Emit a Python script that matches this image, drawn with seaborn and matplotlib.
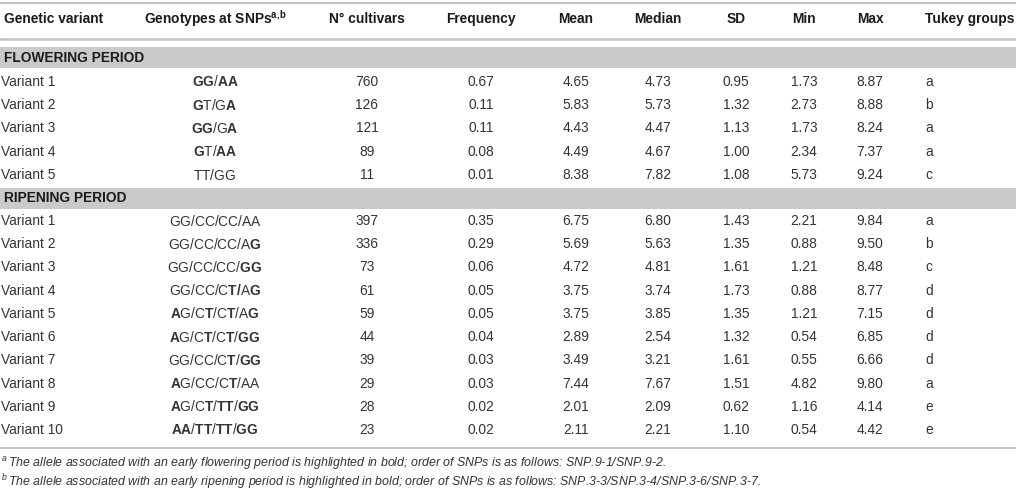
import matplotlib
matplotlib.use("Agg")
import matplotlib.pyplot as plt
import seaborn as sns

# ---------------- data ----------------
header_labels = ["Genetic variant", "Genotypes at SNPs", "N\u00b0 cultivars", "Frequency",
                 "Mean", "Median", "SD", "Min", "Max", "Tukey groups"]

flow_variants = ["Variant 1", "Variant 2", "Variant 3", "Variant 4", "Variant 5"]
flow_genotypes = ["**GG**/**AA**", "**G**T/G**A**", "**GG**/G**A**", "**G**T/**AA**", "TT/GG"]
flow_n = [760, 126, 121, 89, 11]
flow_freq = [0.67, 0.11, 0.11, 0.08, 0.01]
flow_mean = [4.65, 5.83, 4.43, 4.49, 8.38]
flow_median = [4.73, 5.73, 4.47, 4.67, 7.82]
flow_sd = [0.95, 1.32, 1.13, 1.00, 1.08]
flow_min = [1.73, 2.73, 1.73, 2.34, 5.73]
flow_max = [8.87, 8.88, 8.24, 7.37, 9.24]
flow_tukey = ["a", "b", "a", "a", "c"]

ripe_variants = ["Variant %d" % i for i in range(1, 11)]
ripe_genotypes = ["GG/CC/CC/AA", "GG/CC/CC/A**G**", "GG/CC/CC/**GG**", "GG/CC/C**T/**A**G**",
                  "**A**G/C**T**/C**T**/A**G**", "**A**G/C**T**/C**T**/**GG**", "GG/CC/C**T**/**GG**",
                  "**A**G/CC/C**T**/AA", "**A**G/C**T**/**TT**/**GG**", "**AA**/**TT**/**TT**/**GG**"]
ripe_n = [397, 336, 73, 61, 59, 44, 39, 29, 28, 23]
ripe_freq = [0.35, 0.29, 0.06, 0.05, 0.05, 0.04, 0.03, 0.03, 0.02, 0.02]
ripe_mean = [6.75, 5.69, 4.72, 3.75, 3.75, 2.89, 3.49, 7.44, 2.01, 2.11]
ripe_median = [6.80, 5.63, 4.81, 3.74, 3.85, 2.54, 3.21, 7.67, 2.09, 2.21]
ripe_sd = [1.43, 1.35, 1.61, 1.73, 1.35, 1.32, 1.61, 1.51, 0.62, 1.10]
ripe_min = [2.21, 0.88, 1.21, 0.88, 1.21, 0.54, 0.55, 4.82, 1.16, 0.54]
ripe_max = [9.84, 9.50, 8.48, 8.77, 7.15, 6.85, 6.66, 9.80, 4.14, 4.42]
ripe_tukey = ["a", "b", "c", "d", "d", "d", "d", "a", "e", "e"]

section_titles = ["FLOWERING PERIOD", "RIPENING PERIOD"]
footnotes = [
    ("a", "The allele associated with an early flowering period is highlighted in bold; "
          "order of SNPs is as follows: SNP.9-1/SNP.9-2."),
    ("b", "The allele associated with an early ripening period is highlighted in bold; "
          "order of SNPs is as follows: SNP.3-3/SNP.3-4/SNP.3-6/SNP.3-7."),
]

# ---------------- style ----------------
sns.set_theme(style="white")
plt.rcParams["font.family"] = ["Liberation Sans", "DejaVu Sans"]
plt.rcParams["mathtext.fontset"] = "custom"
plt.rcParams["mathtext.rm"] = "Liberation Sans"
plt.rcParams["mathtext.bf"] = "Liberation Sans:bold"
plt.rcParams["mathtext.it"] = "Liberation Sans:italic"
plt.rcParams["mathtext.sf"] = "Liberation Sans"

W, H = 1016, 496
fig = plt.figure(figsize=(W / 100, H / 100), dpi=100)
ax = fig.add_axes([0, 0, 1, 1])
ax.set_xlim(0, W)
ax.set_ylim(H, 0)
ax.axis("off")

FS = 9.9
FN = 8.9
TXT = "#333333"
HDR = "#1a1a1a"
LINE = "#c3c3c3"
BAND = "#c9cacc"

col_x = [1, 215, 367, 481, 576, 658, 736, 804, 870, 925]
col_ha = ["left", "center", "center", "center", "center", "center", "center", "center", "center", "left"]


def geno_math(s):
    parts = s.split("**")
    out = []
    for i, p in enumerate(parts):
        if not p:
            continue
        if i % 2 == 1:
            out.append(r"\mathbf{%s}" % p)
        else:
            out.append(r"\mathrm{%s}" % p)
    return "$" + "".join(out) + "$"


# rules
ax.axhline(2.5, color=LINE, lw=1.5)
ax.axhline(38.5, color=LINE, lw=1.8)
ax.axhline(447.5, color=LINE, lw=1.3)

# header
y_hdr = 19
for j, lab in enumerate(header_labels):
    if j == 1:
        lab_t = r"$\mathbf{Genotypes\ at\ SNPs}^{\mathbf{a{,}b}}$"
        ax.text(col_x[j], y_hdr, lab_t, ha="center", va="center", fontsize=FS, color=HDR)
    else:
        x = 4 if j == 0 else col_x[j]
        ax.text(x, y_hdr, lab, ha=col_ha[j], va="center", fontsize=FS,
                fontweight="bold", color=HDR)


def draw_section(title, band_top, band_bot, y0, step, variants, genos, n, freq, mean,
                 median, sd, mn, mx, tukey):
    ax.axhspan(band_top, band_bot, color=BAND, lw=0)
    ax.text(4, (band_top + band_bot) / 2 + 0.5, title, ha="left", va="center", fontsize=FS,
            fontweight="bold", color=HDR)
    for i in range(len(variants)):
        y = y0 + i * step
        vals = [variants[i], geno_math(genos[i]), "%d" % n[i], "%.2f" % freq[i],
                "%.2f" % mean[i], "%.2f" % median[i], "%.2f" % sd[i], "%.2f" % mn[i],
                "%.2f" % mx[i], tukey[i]]
        for j, v in enumerate(vals):
            ax.text(col_x[j], y, v, ha=col_ha[j], va="center", fontsize=FS, color=TXT)


draw_section(section_titles[0], 47, 68, 82, 23.25, flow_variants, flow_genotypes, flow_n,
             flow_freq, flow_mean, flow_median, flow_sd, flow_min, flow_max, flow_tukey)
draw_section(section_titles[1], 187.5, 208.5, 221, 23.22, ripe_variants, ripe_genotypes, ripe_n,
             ripe_freq, ripe_mean, ripe_median, ripe_sd, ripe_min, ripe_max, ripe_tukey)

# footnotes
for k, (sup, txt) in enumerate(footnotes):
    ax.text(1, 463 + k * 19, r"${}^{%s}\,$" % sup + txt, ha="left", va="center",
            fontsize=FN, fontstyle="italic", color=TXT)

fig.savefig("out.png", dpi=100)
